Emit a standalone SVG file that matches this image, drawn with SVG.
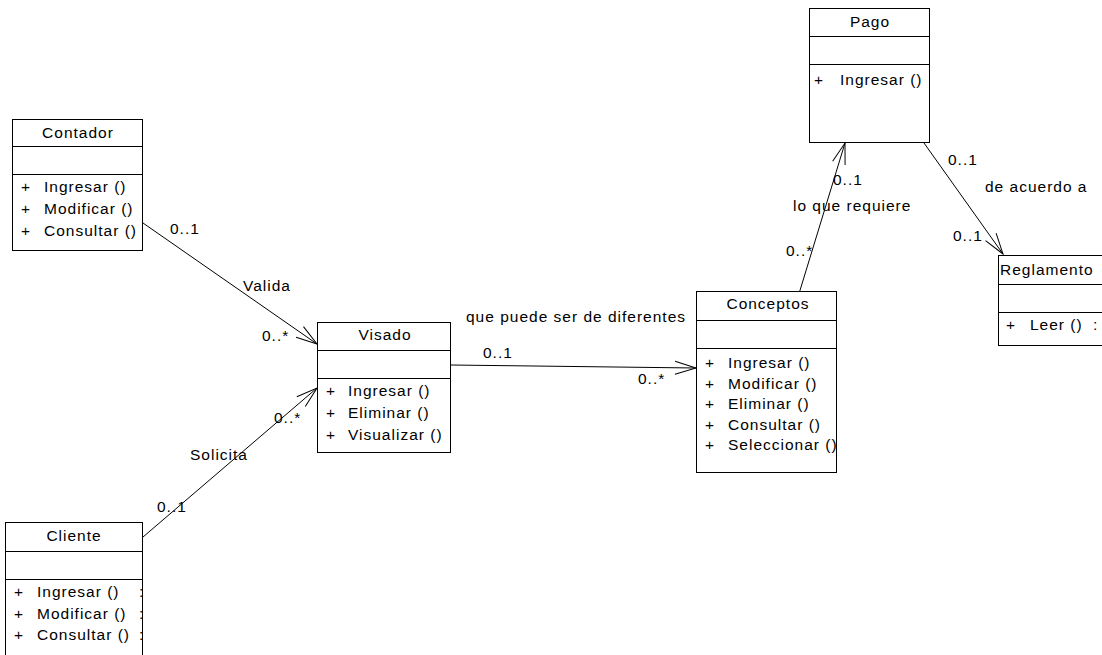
<svg xmlns="http://www.w3.org/2000/svg" width="1102" height="655" viewBox="0 0 1102 655">
<style>
text{font-family:"Liberation Sans",Arial,sans-serif;font-size:15.5px;letter-spacing:1px;fill:#000}
.box{fill:#fff;stroke:#000;stroke-width:1}
.sep{stroke:#000;stroke-width:1}
.title{text-anchor:middle}
.conn{fill:none;stroke:#000;stroke-width:1}
</style>
<defs>
<marker id="open" markerUnits="userSpaceOnUse" markerWidth="30" markerHeight="30" refX="0" refY="0" orient="auto" overflow="visible">
<path d="M-21,-6.5 L0,0 L-21,6.5" fill="none" stroke="#000" stroke-width="1"/>
</marker>
</defs>
<rect width="1102" height="655" fill="#fff"/>
<g id="connectors">
<line class="conn" x1="143" y1="223" x2="317" y2="344" marker-end="url(#open)"/>
<line class="conn" x1="143" y1="537" x2="317" y2="388" marker-end="url(#open)"/>
<line class="conn" x1="451" y1="365" x2="696" y2="368" marker-end="url(#open)"/>
<line class="conn" x1="799.5" y1="292" x2="845" y2="143" marker-end="url(#open)"/>
<line class="conn" x1="924" y1="143" x2="1003" y2="254" marker-end="url(#open)"/>
<text x="170" y="234">0..1</text>
<text x="243" y="291">Valida</text>
<text x="262" y="341">0..*</text>
<text x="466" y="322">que puede ser de diferentes</text>
<text x="483" y="358">0..1</text>
<text x="638" y="384">0..*</text>
<text x="190" y="460">Solicita</text>
<text x="274" y="423">0..*</text>
<text x="157" y="512">0..1</text>
<text x="833" y="185">0..1</text>
<text x="793" y="211">lo que requiere</text>
<text x="786" y="256">0..*</text>
<text x="948" y="165">0..1</text>
<text x="985" y="192">de acuerdo a</text>
<text x="953" y="241">0..1</text>
</g>
<g id="Contador">
<rect class="box" x="12.5" y="119.5" width="130" height="131"/>
<line class="sep" x1="12.5" y1="146.5" x2="142.5" y2="146.5"/>
<line class="sep" x1="12.5" y1="174.5" x2="142.5" y2="174.5"/>
<text class="title" x="78" y="137.5">Contador</text>
<text x="21" y="192">+</text><text x="44" y="192">Ingresar ()</text>
<text x="21" y="214">+</text><text x="44" y="214">Modificar ()</text>
<text x="21" y="236">+</text><text x="44" y="236">Consultar ()</text>
</g>
<g id="Visado">
<rect class="box" x="317.5" y="322.5" width="133" height="130"/>
<line class="sep" x1="317.5" y1="350.5" x2="450.5" y2="350.5"/>
<line class="sep" x1="317.5" y1="378.5" x2="450.5" y2="378.5"/>
<text class="title" x="385" y="340">Visado</text>
<text x="326" y="396">+</text><text x="348" y="396">Ingresar ()</text>
<text x="326" y="418">+</text><text x="348" y="418">Eliminar ()</text>
<text x="326" y="440">+</text><text x="348" y="440">Visualizar ()</text>
</g>
<g id="Conceptos">
<rect class="box" x="696.5" y="291.5" width="140" height="181"/>
<line class="sep" x1="696.5" y1="320.5" x2="836.5" y2="320.5"/>
<line class="sep" x1="696.5" y1="348.5" x2="836.5" y2="348.5"/>
<text class="title" x="768" y="309">Conceptos</text>
<text x="705" y="368">+</text><text x="728" y="368">Ingresar ()</text>
<text x="705" y="388.5">+</text><text x="728" y="388.5">Modificar ()</text>
<text x="705" y="409">+</text><text x="728" y="409">Eliminar ()</text>
<text x="705" y="429.5">+</text><text x="728" y="429.5">Consultar ()</text>
<text x="705" y="450">+</text><text x="728" y="450">Seleccionar ()</text>
</g>
<g id="Pago">
<rect class="box" x="809.5" y="8.5" width="120" height="134"/>
<line class="sep" x1="809.5" y1="36.5" x2="929.5" y2="36.5"/>
<line class="sep" x1="809.5" y1="64.5" x2="929.5" y2="64.5"/>
<text class="title" x="870" y="27">Pago</text>
<text x="814" y="85">+</text><text x="840" y="85">Ingresar ()</text>
</g>
<g id="Reglamento">
<rect class="box" x="998.5" y="255.5" width="120" height="90"/>
<line class="sep" x1="998.5" y1="284.5" x2="1118" y2="284.5"/>
<line class="sep" x1="998.5" y1="312.5" x2="1118" y2="312.5"/>
<text x="1000" y="275">Reglamento</text>
<text x="1006" y="330">+</text><text x="1030" y="330">Leer ()</text><text x="1093" y="330">:</text>
</g>
<g id="Cliente">
<rect class="box" x="5.5" y="522.5" width="137" height="150"/>
<line class="sep" x1="5.5" y1="551.5" x2="142.5" y2="551.5"/>
<line class="sep" x1="5.5" y1="579.5" x2="142.5" y2="579.5"/>
<text class="title" x="74" y="541">Cliente</text>
<text x="14" y="597">+</text><text x="37" y="597">Ingresar ()</text><text x="139" y="597">:</text>
<text x="14" y="619">+</text><text x="37" y="619">Modificar ()</text><text x="139" y="619">:</text>
<text x="14" y="640">+</text><text x="37" y="640">Consultar ()</text><text x="139" y="640">:</text>
</g>
</svg>
